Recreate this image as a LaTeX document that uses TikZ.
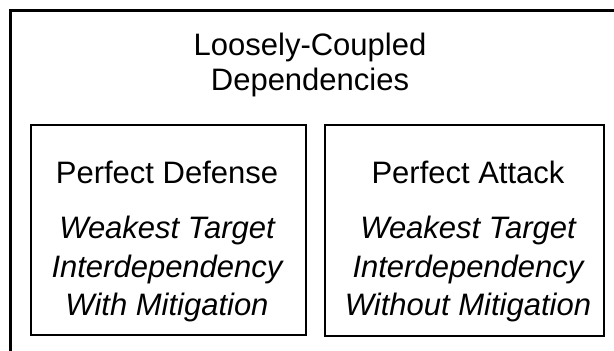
\documentclass[tikz,border=0pt]{standalone}
\usepackage{fontspec}
\setmainfont{Liberation Sans}
\usetikzlibrary{positioning}
\tikzstyle{outerbox} = [draw, line width=3pt]
\tikzstyle{panel} = [draw, line width=2pt, inner sep=0pt]
\tikzstyle{txt} = [inner sep=0pt, anchor=base, font=\fontsize{31}{36}\selectfont]
\tikzstyle{itxt} = [txt, font=\fontsize{31}{36}\selectfont\itshape]

\begin{document}
\begin{tikzpicture}[x=1pt, y=-1pt]
		\useasboundingbox (0,0) rectangle (614,351);
		\clip (0,0) rectangle (614,351);
		% outer box runs off the page on the right and bottom
		\draw[outerbox] (10.5,10.5) rectangle (640,380);
		\node[txt] (title1) at (310,55) {Loosely-Coupled};
		\node[txt] (title2) at (310,90) {Dependencies};
		% the two panels
		\node[panel, minimum width=275pt, minimum height=210pt] (defense) at (168.5,230) {};
		\node[panel, minimum width=279pt, minimum height=211pt] (attack) at (464.5,230.5) {};
		% left panel text
		\node[txt] (defHead) at (167,183) {Perfect Defense};
		\node[itxt] (defA) at (167,238) {Weakest Target};
		\node[itxt] (defB) at (167,277) {Interdependency};
		\node[itxt] (defC) at (167,315) {With Mitigation};
		% right panel text
		\node[txt] (attHead) at (468,183) {Perfect Attack};
		\node[itxt] (attA) at (468,238) {Weakest Target};
		\node[itxt] (attB) at (468,277) {Interdependency};
		\node[itxt] (attC) at (468,315) {Without Mitigation};
	\end{tikzpicture}
\end{document}
